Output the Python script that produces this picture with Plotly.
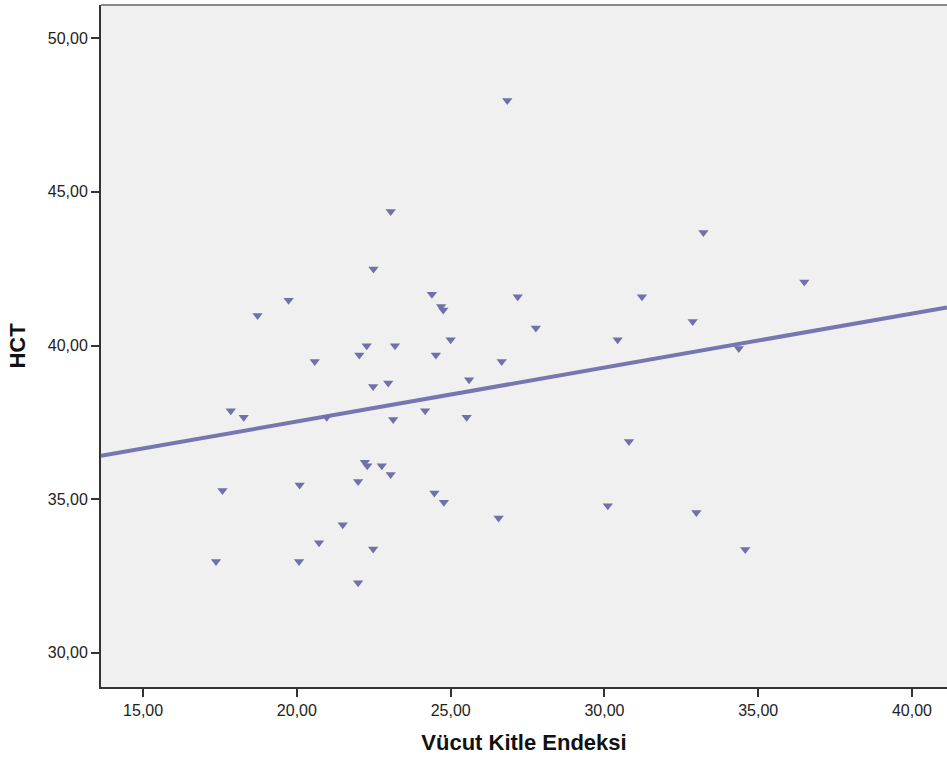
import plotly.graph_objects as go

# Vücut Kitle Endeksi (BMI) and HCT values
bmi = [17.37, 17.58, 17.85, 18.27, 18.72, 19.73, 20.09, 20.07, 20.58, 20.72,
       20.97, 21.49, 21.99, 21.99, 22.03, 22.27, 22.21, 22.29, 22.49, 22.48,
       22.48, 22.76, 22.97, 23.05, 23.05, 23.13, 23.19, 24.17, 24.39, 24.47,
       24.52, 24.69, 24.76, 24.78, 25.00, 25.52, 25.60, 26.56, 26.66, 26.84,
       27.18, 27.77, 30.11, 30.43, 30.80, 31.22, 32.87, 32.99, 33.22, 34.37,
       34.58, 36.50]
hct = [32.97, 35.28, 37.88, 37.67, 40.98, 41.47, 35.46, 32.97, 39.48, 33.58,
       37.67, 34.17, 35.58, 32.28, 39.69, 39.99, 36.20, 36.09, 42.49, 38.67,
       33.38, 36.09, 38.78, 44.36, 35.80, 37.59, 39.99, 37.88, 41.67, 35.20,
       39.69, 41.27, 41.16, 34.90, 40.19, 37.67, 38.89, 34.39, 39.48, 47.97,
       41.59, 40.57, 34.79, 40.19, 36.88, 41.59, 40.78, 34.57, 43.68, 39.90,
       33.36, 42.07]

# Fit line (at the axis ends)
fit_x = [13.63, 41.14]
fit_y = [36.41, 41.24]

x_ticks = [15, 20, 25, 30, 35, 40]
x_tick_labels = ["15,00", "20,00", "25,00", "30,00", "35,00", "40,00"]
y_ticks = [30, 35, 40, 45, 50]
y_tick_labels = ["30,00", "35,00", "40,00", "45,00", "50,00"]

x_range = [13.63, 41.14]
y_range = [28.89, 51.08]

mark_color = "#7070AA"

fig = go.Figure()
fig.add_trace(go.Scatter(
    x=fit_x, y=fit_y, mode="lines",
    line=dict(color="#7676B0", width=4),
    hoverinfo="skip", showlegend=False,
))
fig.add_trace(go.Scatter(
    x=bmi, y=hct, mode="markers",
    marker=dict(symbol="triangle-down", size=9, color=mark_color,
                line=dict(width=0)),
    showlegend=False,
))

axis_font = dict(family="Liberation Sans, Arial, sans-serif", size=16, color="#222222")
title_font = dict(family="Liberation Sans, Arial, sans-serif", size=22, color="#111111")

fig.update_layout(
    width=947, height=761,
    margin=dict(l=101, r=0, t=5, b=74, pad=0),
    paper_bgcolor="white",
    plot_bgcolor="#F0F0F0",
    xaxis=dict(
        range=x_range, tickmode="array", tickvals=x_ticks, ticktext=x_tick_labels,
        showgrid=False, zeroline=False,
        showline=True, linecolor="#333333", linewidth=2,
        ticks="outside", ticklen=8, tickwidth=2, tickcolor="#333333",
        tickfont=axis_font,
        title=dict(text="<b>Vücut Kitle Endeksi</b>", font=title_font, standoff=16),
    ),
    yaxis=dict(
        range=y_range, tickmode="array", tickvals=y_ticks, ticktext=y_tick_labels,
        showgrid=False, zeroline=False,
        showline=True, linecolor="#333333", linewidth=2,
        ticks="outside", ticklen=8, tickwidth=2, tickcolor="#333333",
        tickfont=axis_font,
        title=dict(text="<b>HCT</b>", font=title_font, standoff=16),
    ),
    shapes=[dict(type="line", xref="paper", yref="paper", x0=0, x1=1, y0=1, y1=1,
                 line=dict(color="#888888", width=2))],
)

fig.write_html("out.html")
